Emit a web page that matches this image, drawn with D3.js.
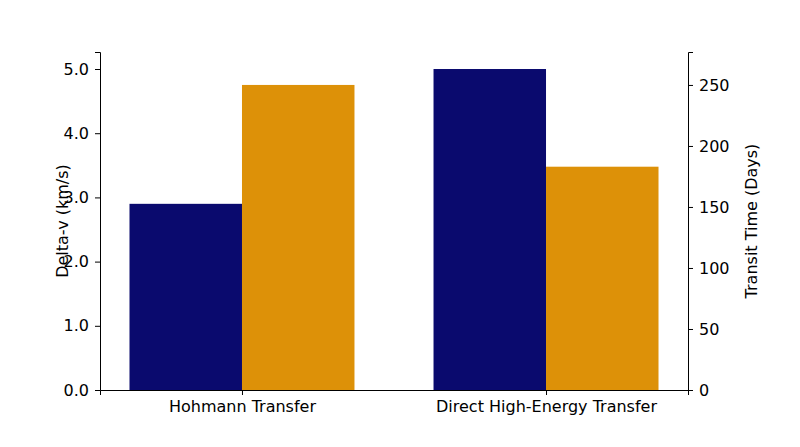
<!DOCTYPE html>
<html><head><meta charset="utf-8">
<script src="https://cdn.jsdelivr.net/npm/d3@7"></script>
<style>body{margin:0;background:#fff}text{font-family:"DejaVu Sans",sans-serif}</style>
</head><body><div id="chart"></div>
<script>
const categories = ["Hohmann Transfer", "Direct High-Energy Transfer"];
const deltaV = [2.9, 5.0];
const transitDays = [250, 183];
const leftTicks = [0, 1, 2, 3, 4, 5];
const rightTicks = [0, 50, 100, 150, 200, 250];

const width = 800, height = 447;
const margin = { top: 52, left: 100, right: 112, bottom: 57 };
const iw = width - margin.left - margin.right;
const ih = height - margin.top - margin.bottom;

const svg = d3.select("#chart").append("svg").attr("width", width).attr("height", height);
const g = svg.append("g").attr("transform", `translate(${margin.left},${margin.top})`);

const x = d3.scaleLinear().domain([-0.467, 1.467]).range([0, iw]);
const barW = 0.37;
const yL = d3.scaleLinear().domain([0, 5.265]).range([ih, 0]);
const yR = d3.scaleLinear().domain([0, 277]).range([ih, 0]);

g.selectAll("rect.dv").data(deltaV).join("rect").attr("class", "dv")
  .attr("x", (d, i) => x(i - barW)).attr("width", x(barW) - x(0))
  .attr("y", d => yL(d)).attr("height", d => ih - yL(d)).attr("fill", "#0a0a6e");
g.selectAll("rect.tt").data(transitDays).join("rect").attr("class", "tt")
  .attr("x", (d, i) => x(i)).attr("width", x(barW) - x(0))
  .attr("y", d => yR(d)).attr("height", d => ih - yR(d)).attr("fill", "#dd9108");

const style = sel => {
  sel.selectAll("text").attr("font-size", 16).attr("fill", "#000");
  sel.selectAll("path,line").attr("stroke", "#000");
};
g.append("g").call(d3.axisLeft(yL).tickValues(leftTicks).tickSize(5).tickPadding(6)).call(style);
g.append("g").attr("transform", `translate(${iw},0)`)
  .call(d3.axisRight(yR).tickValues(rightTicks).tickSize(5).tickPadding(6)).call(style);
g.append("g").attr("transform", `translate(0,${ih})`)
  .call(d3.axisBottom(x).tickValues([0, 1]).tickFormat(i => categories[i]).tickSize(5).tickPadding(6)).call(style);
g.selectAll(".domain").attr("d", function () { return d3.select(this).attr("d").replace(/M[^M]*?V/, m => m); });

svg.append("text").attr("transform", `translate(68,${margin.top + ih / 2}) rotate(-90)`)
  .attr("text-anchor", "middle").attr("font-size", 16).text("Delta-v (km/s)");
svg.append("text").attr("transform", `translate(757,${margin.top + ih / 2}) rotate(-90)`)
  .attr("text-anchor", "middle").attr("font-size", 16).text("Transit Time (Days)");
</script></body></html>
